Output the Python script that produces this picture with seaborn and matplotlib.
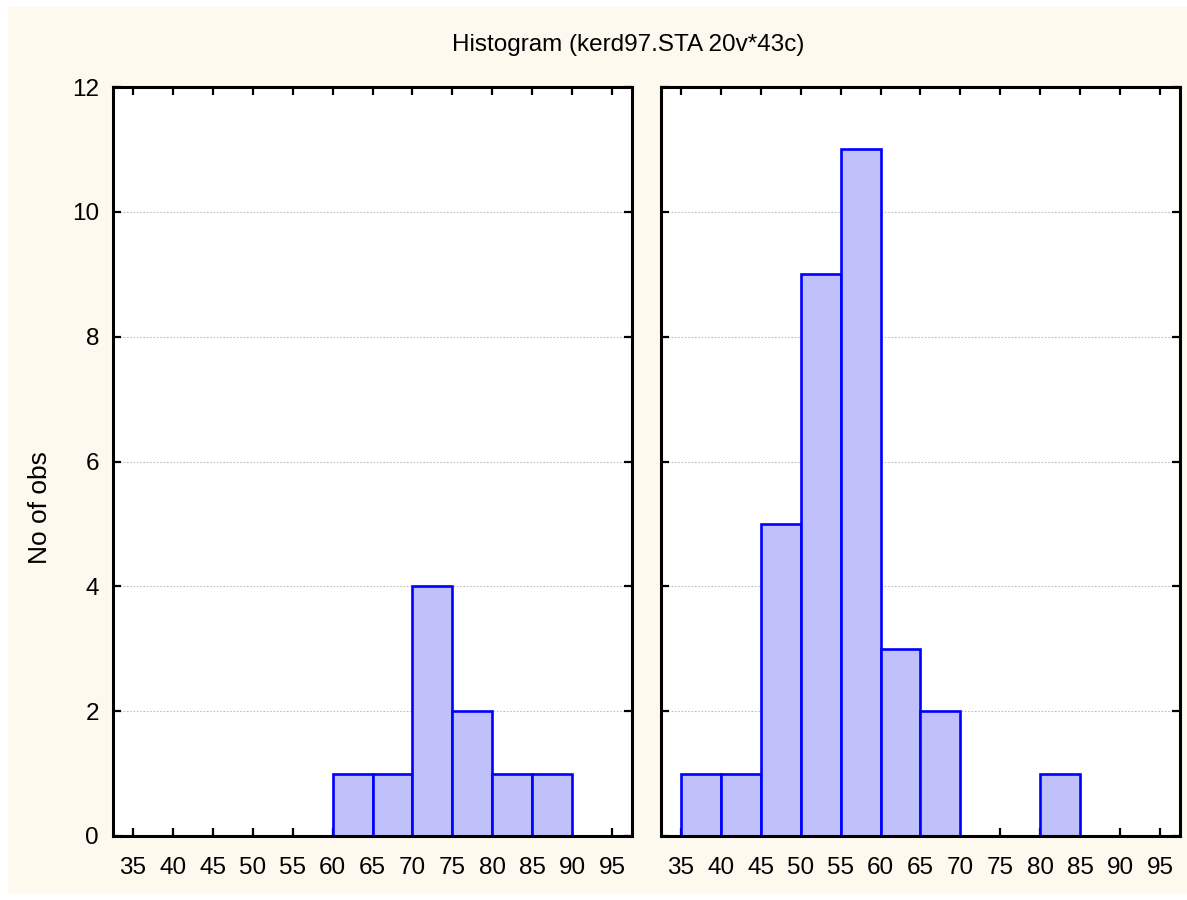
import numpy as np
import pandas as pd
import matplotlib
matplotlib.use("Agg")
import matplotlib.pyplot as plt
import seaborn as sns
from matplotlib.patches import Rectangle

# ---- data ----
bin_edges = [35, 40, 45, 50, 55, 60, 65, 70, 75, 80, 85, 90, 95]
left_counts = [0, 0, 0, 0, 0, 1, 1, 4, 2, 1, 1, 0]
right_counts = [1, 1, 5, 9, 11, 3, 2, 0, 0, 1, 0, 0]
x_ticks = [35, 40, 45, 50, 55, 60, 65, 70, 75, 80, 85, 90, 95]
y_ticks = [0, 2, 4, 6, 8, 10, 12]
title = "Histogram (kerd97.STA 20v*43c)"
ylabel = "No of obs"

sns.set_theme(style="white")
plt.rcParams['font.family'] = ['Liberation Sans', 'DejaVu Sans']

W, H = 1187, 900
bg = '#FEF9EF'
fig = plt.figure(figsize=(W / 100, H / 100), dpi=100, facecolor='white')
fig.add_artist(Rectangle((8 / W, 7 / H), 1 - 8 / W, 1 - 14 / H, transform=fig.transFigure,
                         facecolor=bg, edgecolor='none', zorder=-10))

top, bot = 87, 836
ax1 = fig.add_axes([113 / W, 1 - bot / H, (632 - 113) / W, (bot - top) / H])
ax2 = fig.add_axes([661 / W, 1 - bot / H, (1180 - 661) / W, (bot - top) / H])

centers = [(a + b) / 2 for a, b in zip(bin_edges[:-1], bin_edges[1:])]

for ax, counts in [(ax1, left_counts), (ax2, right_counts)]:
    df = pd.DataFrame({"x": centers, "w": counts})
    df = df[df["w"] > 0]
    sns.histplot(data=df, x="x", weights="w", bins=bin_edges, ax=ax,
                 color='#C0C0FA', edgecolor='#0000FF', linewidth=1.9, alpha=1.0)
    ax.set_facecolor('white')
    ax.set_xlim(32.5, 97.5)
    ax.set_ylim(0, 12)
    ax.set_xticks(x_ticks)
    ax.set_xticklabels([str(t) for t in x_ticks])
    ax.set_yticks(y_ticks)
    ax.set_xlabel("")
    ax.set_ylabel("")
    ax.yaxis.grid(True, linestyle=(0, (1.5, 1.5)), color='#BDBDBD', linewidth=0.8)
    ax.xaxis.grid(False)
    ax.set_axisbelow(True)
    for s in ax.spines.values():
        s.set_visible(True)
        s.set_color('black')
        s.set_linewidth(2.2)
    ax.tick_params(axis='both', which='both', direction='in', length=6, width=1.6,
                   colors='black', top=True, right=True, bottom=True, left=True,
                   labelsize=17.5)
    ax.tick_params(axis='x', pad=15)
    ax.tick_params(axis='y', pad=10)

ax2.tick_params(axis='y', labelleft=False)

fig.text(628 / W, 1 - 45 / H, title, ha='center', va='center', fontsize=17.5, color='black')
fig.text(40 / W, 1 - 508 / H, ylabel, rotation=90,
         ha='center', va='center', fontsize=19, color='black')

fig.savefig('out.png', dpi=100, facecolor='white')
